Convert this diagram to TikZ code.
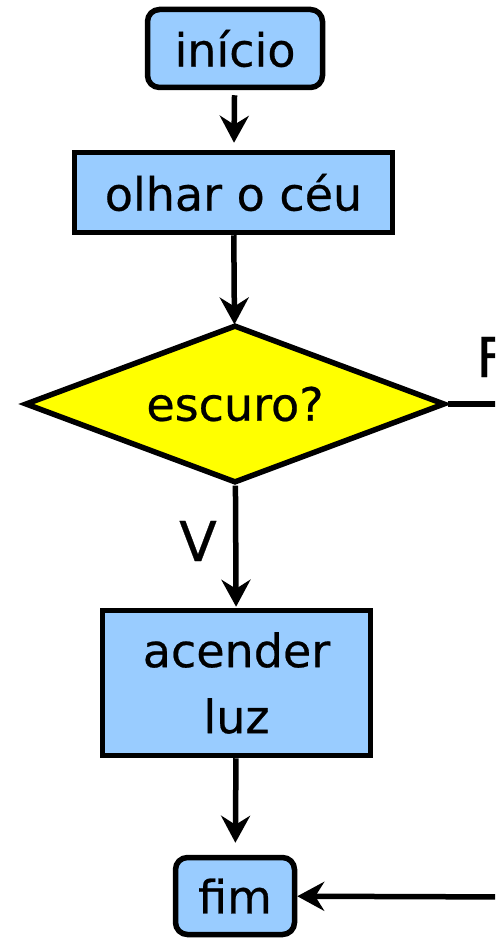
\documentclass[tikz,border=0pt]{standalone}
\usepackage{fontspec}
\setmainfont[FakeBold=0.5]{DejaVu Sans}
\usepackage{tikz}
\usetikzlibrary{shapes.geometric,arrows.meta}
\definecolor{boxblue}{HTML}{99CCFF}
\definecolor{askyellow}{HTML}{FFFF00}

\begin{document}
\begin{tikzpicture}[x=1pt,y=-1pt,line width=5.5pt,
    font=\fontsize{46}{66}\selectfont,
    arr/.style={-{Stealth[length=27pt,width=29pt,inset=9pt]}},
    box/.style={draw,fill=boxblue,inner sep=0pt,align=center},
    endbox/.style={box,rounded corners=12pt},
    ask/.style={draw,fill=askyellow,diamond,aspect=2.7,inner sep=0pt,minimum width=420pt,minimum height=158pt},
    lbl/.style={font=\fontsize{55}{60}\selectfont}]
  \clip (0,0) rectangle (495,939);
  \node (inicio) [endbox,minimum width=175pt,minimum height=78pt] at (235,48.5) {início};
  \node (olhar) [box,minimum width=318pt,minimum height=80pt] at (233.5,192.5) {olhar o céu};
  \node (escuro) [ask] at (235,404) {escuro?};
  \node (acender) [box,minimum width=268pt,minimum height=145pt] at (236.5,683) {acender\\luz};
  \node (fim) [endbox,minimum width=119pt,minimum height=77pt] at (235,896) {fim};
  \coordinate (fsai) at (520,404);
  \coordinate (fvolta) at (520,897);
  \path[arr]
    (inicio) edge [shorten <=5pt,shorten >=7pt] (olhar)
    (olhar) edge [shorten >=-2pt] (escuro)
    (escuro) edge [shorten >=1pt] (acender)
    (acender) edge [shorten >=12pt] (fim)
    (fvolta) edge (fim);
  \draw (escuro.east) -- (fsai);
  \node (falso) [lbl] at (492,357) {F};
  \node (verdade) [lbl] at (198,541) {V};
\end{tikzpicture}
\end{document}
